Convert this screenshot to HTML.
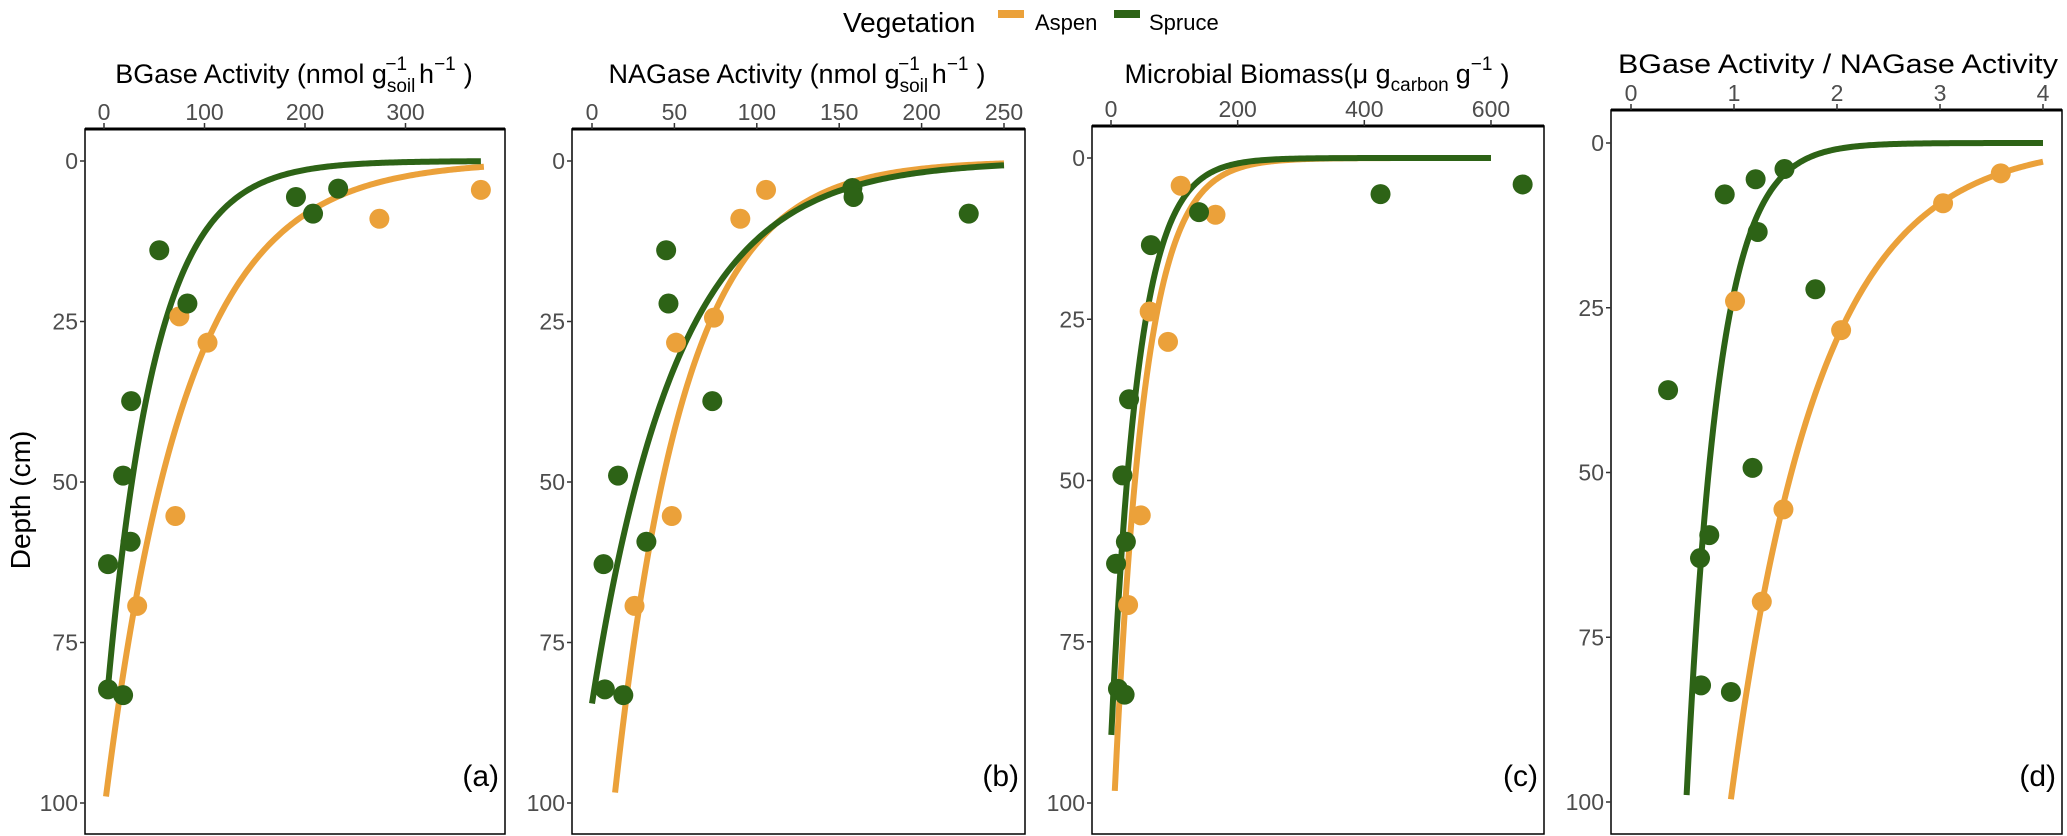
<!DOCTYPE html>
<html><head><meta charset="utf-8"><style>
html,body{margin:0;padding:0;background:#fff;}
svg{display:block;font-family:"Liberation Sans",sans-serif;}
</style></head><body>
<svg id="chart" width="2067" height="836" viewBox="0 0 2067 836">
<g>
  <text x="843" y="32" font-size="28" fill="#000">Vegetation</text>
  <rect x="998" y="10" width="26" height="8" fill="#EBA13A"/>
  <text x="1035" y="30" font-size="22" fill="#000">Aspen</text>
  <rect x="1114" y="10" width="26" height="8" fill="#2D6316"/>
  <text x="1149" y="30" font-size="22" fill="#000">Spruce</text>
</g>
<text transform="translate(30,500) rotate(-90)" text-anchor="middle" font-size="28" fill="#000">Depth (cm)</text>
</svg>
<script>
// ---- data ----
const depthTicks = [0, 25, 50, 75, 100];
const xTicksA = [0, 100, 200, 300];
const xTicksB = [0, 50, 100, 150, 200, 250];
const xTicksC = [0, 200, 400, 600];
const xTicksD = [0, 1, 2, 3, 4];

const aspenA_x = [375, 274, 103, 75, 71, 33];
const aspenA_d = [4.5, 9, 28.3, 24.2, 55.3, 69.3];
const spruceA_x = [233, 191, 208, 55, 83, 27, 19, 26.5, 4, 4, 19];
const spruceA_d = [4.3, 5.6, 8.2, 13.9, 22.2, 37.4, 49, 59.3, 62.8, 82.3, 83.2];

const aspenB_x = [105.6, 90, 74, 51, 48.4, 25.8];
const aspenB_d = [4.5, 9, 24.4, 28.3, 55.3, 69.3];
const spruceB_x = [158, 158.7, 228.6, 45, 46.4, 73, 15.8, 33, 7, 7.8, 19];
const spruceB_d = [4.2, 5.6, 8.2, 13.9, 22.2, 37.4, 49, 59.3, 62.8, 82.3, 83.2];

const aspenC_x = [110, 165, 61, 90, 47, 27];
const aspenC_d = [4.3, 8.8, 23.8, 28.5, 55.4, 69.3];
const spruceC_x = [650, 425.6, 139, 63, 28.5, 18, 23.5, 8, 11, 21.5];
const spruceC_d = [4.1, 5.6, 8.4, 13.5, 37.4, 49.2, 59.5, 62.9, 82.3, 83.2];

const aspenD_x = [3.59, 3.03, 2.04, 1.01, 1.48, 1.27];
const aspenD_d = [4.6, 9.15, 28.4, 24, 55.6, 69.6];
const spruceD_x = [1.49, 1.21, 0.91, 1.23, 1.79, 0.36, 1.18, 0.76, 0.67, 0.68, 0.97];
const spruceD_d = [3.95, 5.5, 7.8, 13.5, 22.2, 37.5, 49.3, 59.5, 63, 82.3, 83.3];

// fitted curves: depth = A * exp(-k * x), drawn over [xmin, xmax]
const fitAspen_A = [101.5, 137, 111.4, 311];
const fitAspen_k = [0.0125, 0.02366, 0.02116, 1.174];
const fitAspen_xmin = [2, 14, 6, 0.97];
const fitAspen_xmax = [378, 250, 600, 4];
const fitSpruce_A = [89, 84.5, 90.5, 557];
const fitSpruce_k = [0.0208, 0.01933, 0.0234, 3.2];
const fitSpruce_xmin = [4, 0, 0.5, 0.54];
const fitSpruce_xmax = [375, 250, 600, 4];

// ---- layout ----
const NS = "http://www.w3.org/2000/svg";
const svg = document.getElementById('chart');
const ORANGE = "#EBA13A", GREEN = "#2D6316";
const panels = [
  {id:'a', L:85, R:505, T:129, B:834, x0:104, xs:1.005, y0:161, ys:6.42, ticks:xTicksA, tc:294, tb:83,
   title:'BGase', ax:aspenA_x, ad:aspenA_d, sx:spruceA_x, sd:spruceA_d},
  {id:'b', L:572, R:1025, T:129, B:834, x0:592, xs:1.648, y0:161, ys:6.42, ticks:xTicksB, tc:797, tb:83,
   title:'NAGase', ax:aspenB_x, ad:aspenB_d, sx:spruceB_x, sd:spruceB_d},
  {id:'c', L:1092, R:1544, T:126, B:834, x0:1111, xs:0.6333, y0:158, ys:6.45, ticks:xTicksC, tc:1317, tb:83,
   title:'Biomass', ax:aspenC_x, ad:aspenC_d, sx:spruceC_x, sd:spruceC_d},
  {id:'d', L:1611, R:2062, T:110, B:834, x0:1631, xs:103, y0:143, ys:6.59, ticks:xTicksD, tc:1838, tb:73,
   title:'Ratio', ax:aspenD_x, ad:aspenD_d, sx:spruceD_x, sd:spruceD_d}
];
function el(tag, attrs, parent){const e=document.createElementNS(NS,tag);for(const k in attrs)e.setAttribute(k,attrs[k]);(parent||svg).appendChild(e);return e;}

panels.forEach((p, i) => {
  const X = v => p.x0 + p.xs * v;
  const Y = d => p.y0 + p.ys * d;
  const g = el('g', {});
  
  
  const box = el('rect', {x:p.L, y:p.T, width:p.R-p.L, height:p.B-p.T, fill:'#fff', stroke:'#000', 'stroke-width':1.5}, g);
  
  
  const axl = el('line', {x1:p.L, x2:p.R, y1:p.T, y2:p.T, stroke:'#000', 'stroke-width':3}, g);
  
  
  p.ticks.forEach(t => {
    el('line', {x1:X(t), x2:X(t), y1:p.T-6, y2:p.T, stroke:'#333', 'stroke-width':1.5}, g);
    const tx = el('text', {x:X(t), y:p.T-9, 'text-anchor':'middle', 'font-size':23, fill:'#4d4d4d'}, g);
    tx.textContent = t;
    
    
  });
  depthTicks.forEach(t => {
    el('line', {x1:p.L-5, x2:p.L, y1:Y(t), y2:Y(t), stroke:'#333', 'stroke-width':1.5}, g);
    const ty = el('text', {x:p.L-7, y:Y(t)+8, 'text-anchor':'end', 'font-size':23, fill:'#4d4d4d'}, g);
    ty.textContent = t;
    
    
  });
  const tt = el('text', {x:p.tc, y:p.tb, 'text-anchor':'middle', 'font-size':27, fill:'#000'}, g);
  
  
  if (p.title === 'BGase' || p.title === 'NAGase') {
    tt.innerHTML = p.title + ' Activity (nmol g<tspan font-size="19" dy="9">soil</tspan><tspan font-size="19" dx="-30" dy="-22">\u22121</tspan><tspan dx="12" dy="13">h</tspan><tspan font-size="19" dy="-13">\u22121</tspan><tspan dx="8" dy="13">)</tspan>';
  } else if (p.title === 'Biomass') {
    tt.innerHTML = 'Microbial Biomass(\u03bc g<tspan font-size="19" dy="8">carbon</tspan><tspan dx="7" dy="-8">g</tspan><tspan font-size="19" dy="-13">\u22121</tspan><tspan dx="8" dy="13">)</tspan>';
  } else {
    tt.textContent = 'BGase Activity / NAGase Activity';
    tt.setAttribute('textLength', 440);
    tt.setAttribute('lengthAdjust', 'spacingAndGlyphs');
  }
  const curve = (A, k, x1, x2, col, name) => {
    let d = '';
    for (let s = 0; s <= 200; s++) {
      const v = x1 + (x2 - x1) * s / 200;
      d += (s ? 'L' : 'M') + X(v).toFixed(2) + ',' + Y(A * Math.exp(-k * v)).toFixed(2);
    }
    const path = el('path', {d:d, fill:'none', stroke:col, 'stroke-width':6}, g);
    
    
  };
  curve(fitAspen_A[i], fitAspen_k[i], fitAspen_xmin[i], fitAspen_xmax[i], ORANGE, 'aspen-fit-line');
  curve(fitSpruce_A[i], fitSpruce_k[i], fitSpruce_xmin[i], fitSpruce_xmax[i], GREEN, 'spruce-fit-line');
  p.ax.forEach((v, j) => {
    const c = el('circle', {cx:X(v), cy:Y(p.ad[j]), r:10, fill:ORANGE}, g);
    
    
  });
  p.sx.forEach((v, j) => {
    const c = el('circle', {cx:X(v), cy:Y(p.sd[j]), r:10, fill:GREEN}, g);
    
    
  });
  const lab = el('text', {x:p.R-6, y:786, 'text-anchor':'end', 'font-size':30, fill:'#000'}, g);
  lab.textContent = '(' + p.id + ')';
  
  
});
</script>
</body></html>
